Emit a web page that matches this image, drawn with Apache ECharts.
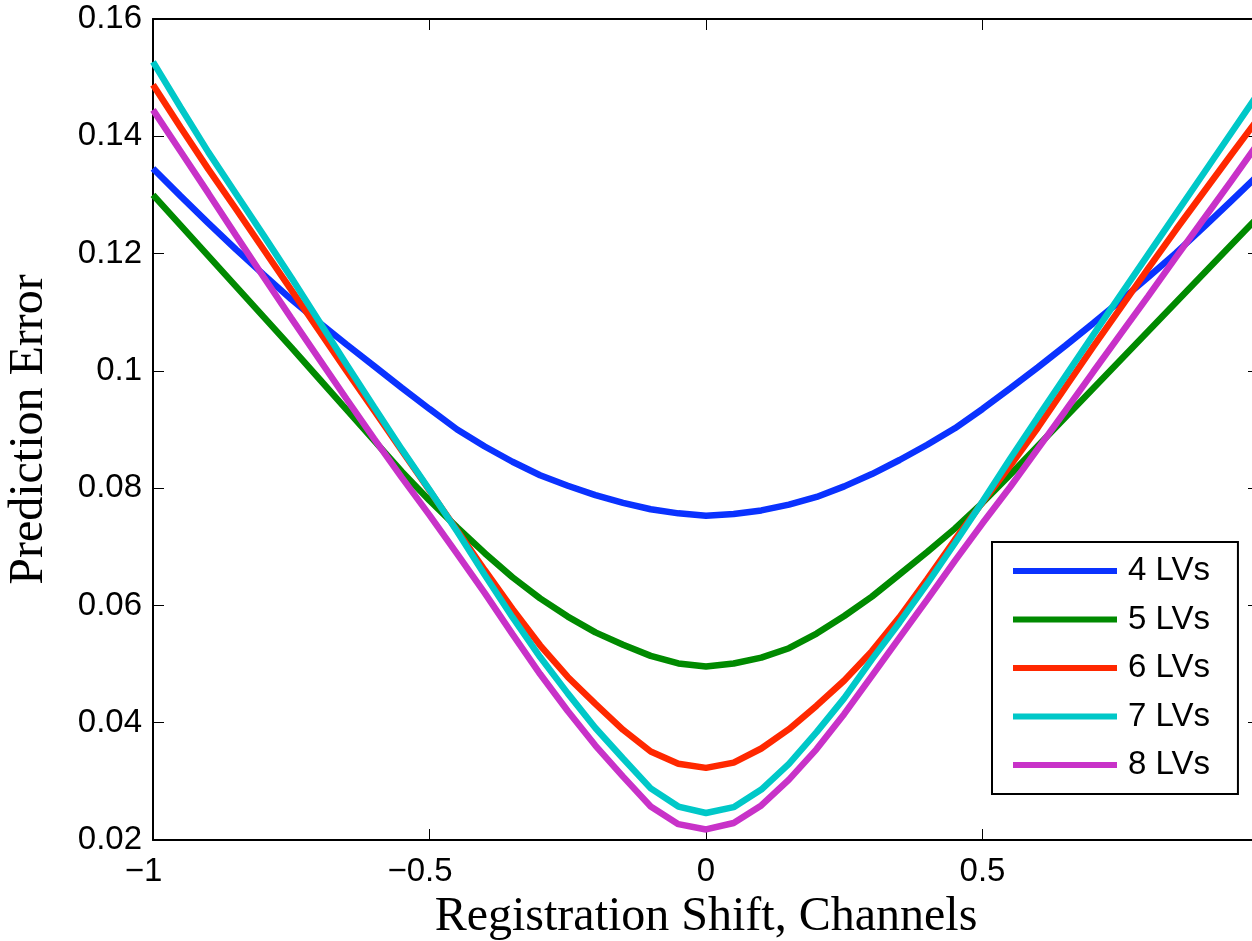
<!DOCTYPE html>
<html>
<head>
<meta charset="utf-8">
<script src="https://cdn.jsdelivr.net/npm/echarts@6/dist/echarts.min.js"></script>
<style>
html,body{margin:0;padding:0;background:#fff;overflow:hidden;}
#chart{width:1252px;height:941px;}
</style>
</head>
<body>
<div id="chart"></div>
<script>
// Registration shift (channels)
const shifts = [-1,-0.95,-0.9,-0.85,-0.8,-0.75,-0.7,-0.65,-0.6,-0.55,-0.5,-0.45,-0.4,-0.35,-0.3,-0.25,-0.2,-0.15,-0.1,-0.05,0,
  0.05,0.1,0.15,0.2,0.25,0.3,0.35,0.4,0.45,0.5,0.55,0.6,0.65,0.7,0.75,0.8,0.85,0.9,0.95,1];

const seriesNames = ['4 LVs','5 LVs','6 LVs','7 LVs','8 LVs'];
const seriesColors = ['#0a32ff','#008a00','#ff2800','#00c8c8','#c832c8'];

const lv4 = [0.1345,0.1298,0.1252,0.1207,0.1164,0.1122,0.1083,0.1045,0.1008,0.0971,0.0935,0.0900,0.0871,0.0845,0.0822,0.0804,0.0788,0.0775,0.0764,0.0757,0.0753,
  0.0756,0.0762,0.0772,0.0785,0.0803,0.0824,0.0848,0.0874,0.0902,0.0935,0.0970,0.1006,0.1043,0.1081,0.1120,0.1160,0.1201,0.1245,0.1290,0.1335];
const lv5 = [0.1300,0.1248,0.1196,0.1144,0.1092,0.1040,0.0987,0.0934,0.0881,0.0828,0.0779,0.0733,0.0689,0.0648,0.0612,0.0581,0.0554,0.0533,0.0514,0.0501,0.0496,
  0.0501,0.0511,0.0527,0.0552,0.0582,0.0615,0.0653,0.0691,0.0731,0.0775,0.0823,0.0872,0.0921,0.0970,0.1019,0.1068,0.1117,0.1166,0.1215,0.1264];
const lv6 = [0.1488,0.1415,0.1344,0.1276,0.1207,0.1138,0.1069,0.1000,0.0932,0.0864,0.0796,0.0728,0.0660,0.0594,0.0532,0.0478,0.0432,0.0388,0.0351,0.0330,0.0323,
  0.0332,0.0356,0.0389,0.0429,0.0472,0.0522,0.0580,0.0645,0.0712,0.0776,0.0838,0.0903,0.0972,0.1041,0.1108,0.1175,0.1241,0.1305,0.1369,0.1432];
const lv7 = [0.1527,0.1449,0.1373,0.1302,0.1231,0.1159,0.1085,0.1011,0.0938,0.0866,0.0797,0.0726,0.0652,0.0580,0.0512,0.0450,0.0391,0.0339,0.0288,0.0257,0.0246,
  0.0256,0.0286,0.0330,0.0384,0.0442,0.0508,0.0571,0.0637,0.0706,0.0777,0.0850,0.0921,0.0991,0.1061,0.1130,0.1199,0.1268,0.1337,0.1406,0.1475];
const lv8 = [0.1445,0.1374,0.1303,0.1231,0.1160,0.1090,0.1021,0.0952,0.0884,0.0818,0.0754,0.0688,0.0621,0.0551,0.0483,0.0420,0.0361,0.0308,0.0257,0.0227,0.0218,
  0.0229,0.0259,0.0303,0.0355,0.0415,0.0480,0.0545,0.0610,0.0676,0.0740,0.0802,0.0867,0.0932,0.0998,0.1063,0.1128,0.1194,0.1259,0.1324,0.1390];

const allValues = [lv4, lv5, lv6, lv7, lv8];

const xTitle = 'Registration Shift, Channels';
const yTitle = 'Prediction Error';

const chart = echarts.init(document.getElementById('chart'), null, {renderer: 'canvas'});

const tickFont = {fontFamily: 'Liberation Sans, Arial, sans-serif', fontSize: 33, color: '#000'};
const axisLineStyle = {show: true, onZero: false, lineStyle: {color: '#000', width: 2}};
const tickStyle = {show: true, inside: true, length: 11, lineStyle: {color: '#000', width: 1}};

function fmtX(v) {
  if (v < 0) return '\u2212' + String(Math.abs(v)) + '{p|}';
  return String(v);
}
function fmtY(v) {
  return String(parseFloat(v.toFixed(2)));
}

const option = {
  backgroundColor: '#fff',
  animation: false,
  grid: {left: 153, top: 19, width: 1106, height: 821, containLabel: false, outerBoundsMode: 'none'},
  xAxis: [
    {
      type: 'value', min: -1, max: 1, interval: 0.5, position: 'bottom',
      axisLine: axisLineStyle, axisTick: tickStyle, splitLine: {show: false},
      axisLabel: Object.assign({margin: 15, formatter: fmtX, showMaxLabel: false,
        rich: {p: {width: 19}}}, tickFont),
      name: xTitle, nameLocation: 'middle', nameGap: 48,
      nameTextStyle: {fontFamily: 'Liberation Serif, Times New Roman, serif', fontSize: 48, color: '#000'}
    },
    {
      type: 'value', min: -1, max: 1, interval: 0.5, position: 'top',
      axisLine: axisLineStyle, axisTick: tickStyle, splitLine: {show: false},
      axisLabel: {show: false}
    }
  ],
  yAxis: [
    {
      type: 'value', min: 0.02, max: 0.16, interval: 0.02, position: 'left',
      axisLine: axisLineStyle, axisTick: tickStyle, splitLine: {show: false},
      axisLabel: Object.assign({margin: 11, formatter: fmtY}, tickFont),
      name: yTitle, nameLocation: 'middle', nameGap: 100,
      nameTextStyle: {fontFamily: 'Liberation Serif, Times New Roman, serif', fontSize: 48, color: '#000'}
    },
    {
      type: 'value', min: 0.02, max: 0.16, interval: 0.02, position: 'right',
      axisLine: axisLineStyle, axisTick: tickStyle, splitLine: {show: false},
      axisLabel: {show: false}
    }
  ],
  legend: {
    orient: 'vertical', left: 992, top: 542,
    icon: 'rect', itemWidth: 104, itemHeight: 6, itemGap: 12.5,
    padding: [11, 28, 11, 21],
    borderColor: '#000', borderWidth: 2, backgroundColor: '#fff',
    textStyle: {fontFamily: 'Liberation Sans, Arial, sans-serif', fontSize: 33, color: '#000', lineHeight: 36, padding: [0, 0, 0, 6]},
    data: seriesNames
  },
  series: seriesNames.map((name, i) => ({
    name: name,
    type: 'line',
    xAxisIndex: 0, yAxisIndex: 0,
    symbol: 'none', showSymbol: false, smooth: false,
    color: seriesColors[i],
    lineStyle: {color: seriesColors[i], width: 6.5},
    data: shifts.map((x, j) => [x, allValues[i][j]])
  }))
};

chart.setOption(option);
</script>
</body>
</html>
